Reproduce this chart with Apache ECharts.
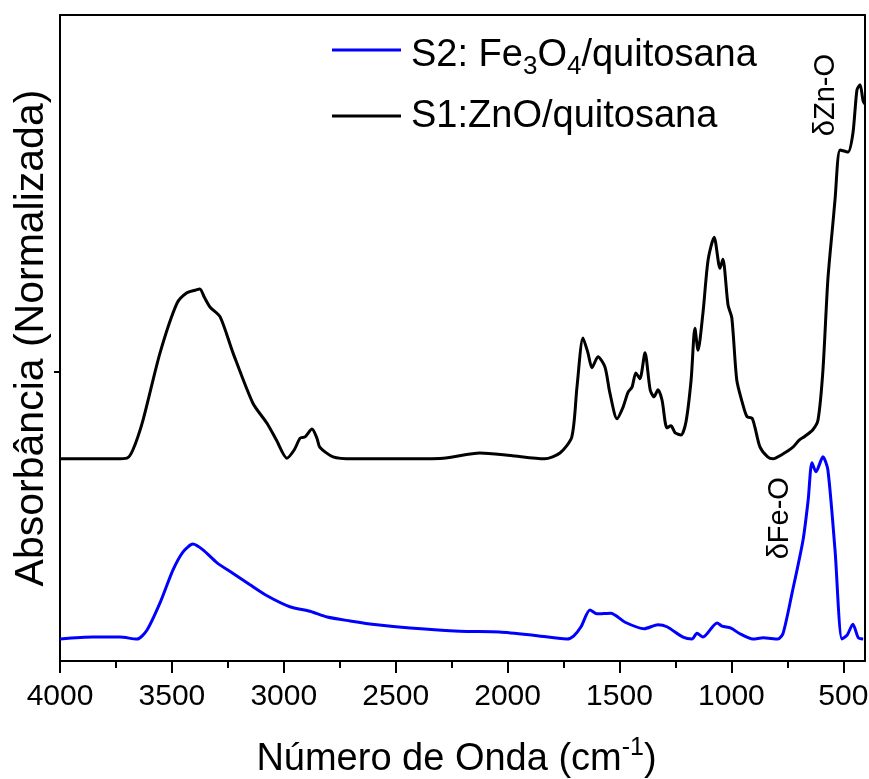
<!DOCTYPE html>
<html>
<head>
<meta charset="utf-8">
<script src="https://cdn.jsdelivr.net/npm/echarts@6/dist/echarts.min.js"></script>
<style>
  html, body { margin: 0; padding: 0; background: #fff; }
  #chart { width: 869px; height: 779px; }
</style>
</head>
<body>
<div id="chart"></div>
<script>
// FTIR spectra, normalized absorbance vs wavenumber (cm-1)

// S1: ZnO/quitosana
const s1Wavenumber = [4000, 3849, 3748, 3701, 3674, 3629, 3553, 3477, 3433, 3396, 3375, 3355, 3330, 3285, 3227, 3138, 3075, 3033, 2986, 2953, 2927, 2905, 2874, 2852, 2839, 2780, 2691, 2489, 2288, 2124, 1986, 1835, 1766, 1713, 1690, 1663, 1641, 1623, 1596, 1565, 1543, 1511, 1484, 1462, 1444, 1427, 1409, 1386, 1363, 1346, 1328, 1310, 1288, 1270, 1251, 1225, 1203, 1180, 1163, 1149, 1127, 1104, 1077, 1051, 1038, 1015, 998, 976, 952, 930, 908, 895, 872, 838, 814, 777, 725, 697, 671, 636, 613, 591, 569, 545, 537, 514, 479, 457, 439, 425, 412, 404];
const s1Absorbance = [0.313, 0.313, 0.313, 0.314, 0.327, 0.373, 0.477, 0.554, 0.570, 0.574, 0.576, 0.563, 0.548, 0.533, 0.477, 0.399, 0.368, 0.342, 0.314, 0.327, 0.345, 0.347, 0.359, 0.345, 0.331, 0.316, 0.313, 0.313, 0.314, 0.322, 0.318, 0.313, 0.322, 0.347, 0.424, 0.500, 0.477, 0.454, 0.471, 0.455, 0.415, 0.375, 0.393, 0.416, 0.424, 0.446, 0.437, 0.477, 0.420, 0.409, 0.420, 0.404, 0.361, 0.364, 0.353, 0.350, 0.370, 0.435, 0.515, 0.481, 0.539, 0.621, 0.656, 0.608, 0.622, 0.551, 0.531, 0.435, 0.401, 0.378, 0.376, 0.362, 0.331, 0.316, 0.313, 0.319, 0.331, 0.342, 0.348, 0.358, 0.373, 0.450, 0.590, 0.683, 0.714, 0.791, 0.788, 0.817, 0.884, 0.892, 0.868, 0.862];

// S2: Fe3O4/quitosana
const s2Wavenumber = [4000, 3853, 3732, 3656, 3611, 3553, 3495, 3450, 3406, 3361, 3298, 3228, 3151, 3075, 2973, 2883, 2806, 2704, 2584, 2436, 2213, 2036, 1885, 1735, 1704, 1672, 1632, 1601, 1539, 1475, 1390, 1328, 1288, 1216, 1176, 1154, 1127, 1064, 1042, 1002, 966, 904, 858, 792, 769, 729, 680, 657, 640, 622, 591, 569, 537, 506, 483, 457, 433, 411];
const s2Absorbance = [0.034, 0.037, 0.037, 0.034, 0.048, 0.090, 0.141, 0.169, 0.181, 0.172, 0.152, 0.136, 0.118, 0.101, 0.084, 0.077, 0.068, 0.062, 0.056, 0.051, 0.046, 0.045, 0.040, 0.034, 0.039, 0.053, 0.079, 0.073, 0.074, 0.060, 0.050, 0.056, 0.053, 0.037, 0.034, 0.043, 0.037, 0.059, 0.054, 0.051, 0.043, 0.034, 0.036, 0.034, 0.043, 0.105, 0.187, 0.249, 0.307, 0.293, 0.316, 0.296, 0.172, 0.034, 0.040, 0.057, 0.036, 0.034];

const majorTicks = [4000, 3500, 3000, 2500, 2000, 1500, 1000, 500];
const minorTicks = [3750, 3250, 2750, 2250, 1750, 1250, 750];
const yTicks = [0.447];

const legendLabels = {
  S2: '{t|S2: Fe}{s|3}{t|O}{s|4}{t|/quitosana}',
  S1: '{t|S1:ZnO/quitosana}'
};

const FONT = '"Liberation Sans", Arial, sans-serif';

function pairs(xs, ys) {
  return xs.map((x, i) => [x, ys[i]]);
}

const chart = echarts.init(document.getElementById('chart'), null, { renderer: 'canvas' });

const xCommon = {
  type: 'value',
  inverse: true,
  min: 403,
  max: 4000,
  splitLine: { show: false }
};

function rotatedNote(text) {
  return {
    show: true,
    formatter: text,
    rotate: 90,
    fontFamily: FONT,
    fontSize: 29,
    color: '#000',
    position: 'inside',
    align: 'center',
    verticalAlign: 'middle'
  };
}

chart.setOption({
  backgroundColor: '#ffffff',
  animation: false,
  grid: { left: 60, right: 4, top: 15, bottom: 118, containLabel: false, outerBoundsMode: 'none' },
  legend: {
    left: 332,
    top: 37,
    padding: 0,
    orient: 'vertical',
    itemWidth: 69,
    itemHeight: 3,
    itemGap: 18,
    icon: 'rect',
    data: ['S2', 'S1'],
    formatter: name => legendLabels[name],
    textStyle: {
      fontFamily: FONT,
      color: '#000',
      height: 36,
      padding: [0, 0, 0, 5],
      rich: {
        t: { fontFamily: FONT, fontSize: 38, color: '#000' },
        s: { fontFamily: FONT, fontSize: 26, color: '#000', padding: [22, 0, 0, 0] }
      }
    }
  },
  xAxis: [
    Object.assign({}, xCommon, {
      position: 'bottom',
      name: '{t|Número de Onda (cm}{p|-1}{t|)}',
      nameLocation: 'middle',
      nameGap: 75,
      nameTextStyle: {
        padding: [0, 12, 0, 0],
        rich: {
          t: { fontFamily: FONT, fontSize: 38, color: '#000' },
          p: { fontFamily: FONT, fontSize: 25, color: '#000', padding: [0, 0, 22, 0] }
        }
      },
      axisLine: { show: true, onZero: false, lineStyle: { color: '#000', width: 2 } },
      axisTick: { show: true, inside: false, length: 12, customValues: majorTicks, lineStyle: { color: '#000', width: 2 } },
      axisLabel: {
        show: true, margin: 21, customValues: majorTicks, hideOverlap: false,
        showMinLabel: true, showMaxLabel: true,
        formatter: v => String(v),
        fontFamily: FONT, fontSize: 30, color: '#000'
      }
    }),
    Object.assign({}, xCommon, {
      position: 'bottom',
      axisLine: { show: false },
      axisTick: { show: true, inside: false, length: 7, customValues: minorTicks, lineStyle: { color: '#000', width: 2 } },
      axisLabel: { show: false }
    }),
    Object.assign({}, xCommon, {
      position: 'top',
      axisLine: { show: true, onZero: false, lineStyle: { color: '#000', width: 2 } },
      axisTick: { show: false },
      axisLabel: { show: false }
    })
  ],
  yAxis: [
    {
      type: 'value',
      min: 0,
      max: 1,
      position: 'left',
      name: 'Absorbância (Normalizada)',
      nameLocation: 'middle',
      nameGap: 8,
      nameTextStyle: { fontFamily: FONT, fontSize: 41, color: '#000', verticalAlign: 'bottom' },
      axisLine: { show: true, onZero: false, lineStyle: { color: '#000', width: 2 } },
      axisTick: { show: true, length: 6, customValues: yTicks, lineStyle: { color: '#000', width: 2 } },
      axisLabel: { show: false },
      splitLine: { show: false }
    },
    {
      type: 'value',
      min: 0,
      max: 1,
      position: 'right',
      axisLine: { show: true, onZero: false, lineStyle: { color: '#000', width: 2 } },
      axisTick: { show: false },
      axisLabel: { show: false },
      splitLine: { show: false }
    }
  ],
  series: [
    {
      name: 'S2',
      type: 'line',
      xAxisIndex: 0,
      yAxisIndex: 0,
      data: pairs(s2Wavenumber, s2Absorbance),
      showSymbol: false,
      symbol: 'none',
      smooth: 0.25,
      color: '#0000ff',
      lineStyle: { color: '#0000ff', width: 3 },
      markPoint: {
        symbol: 'circle',
        symbolSize: 1,
        itemStyle: { color: 'rgba(0,0,0,0)' },
        silent: true,
        data: [{ coord: [783, 0.221], value: 'δFe-O' }],
        label: rotatedNote('δFe-O')
      }
    },
    {
      name: 'S1',
      type: 'line',
      xAxisIndex: 0,
      yAxisIndex: 0,
      data: pairs(s1Wavenumber, s1Absorbance),
      showSymbol: false,
      symbol: 'none',
      smooth: 0.25,
      color: '#000000',
      lineStyle: { color: '#000000', width: 3 },
      markPoint: {
        symbol: 'circle',
        symbolSize: 1,
        itemStyle: { color: 'rgba(0,0,0,0)' },
        silent: true,
        data: [{ coord: [577, 0.876], value: 'δZn-O' }],
        label: rotatedNote('δZn-O')
      }
    }
  ]
});
</script>
</body>
</html>
